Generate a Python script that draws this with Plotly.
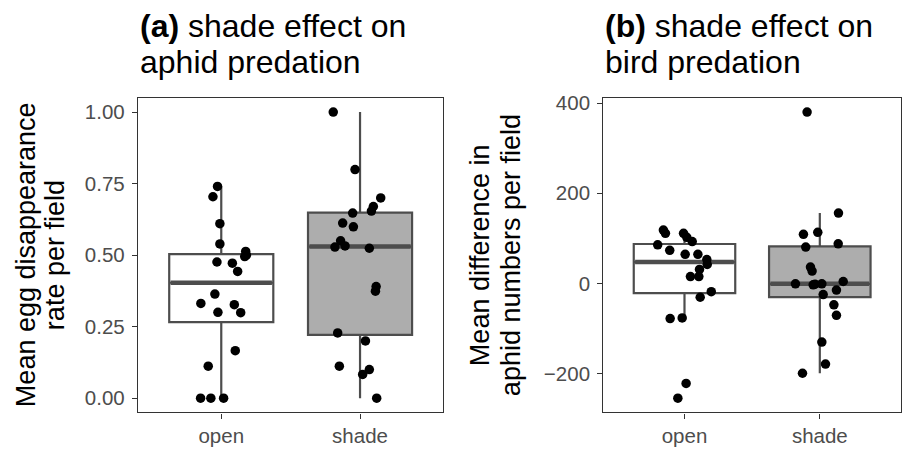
import numpy as np
import plotly.graph_objects as go

# ---------------- data ----------------
categories = ["open", "shade"]

# panel (a): mean egg disappearance rate per field
egg_open = [0.740, 0.704, 0.610, 0.539, 0.513, 0.500, 0.495, 0.476, 0.472, 0.443,
            0.364, 0.331, 0.327, 0.300, 0.299, 0.166, 0.112, 0.0, 0.0, 0.0]
egg_open_jit = [-0.027, -0.060, -0.010, -0.010, 0.176, 0.181, 0.169, -0.031, 0.080, 0.118,
                -0.046, -0.147, 0.094, -0.024, 0.140, 0.101, -0.094, -0.149, -0.075, 0.017]
egg_shade = [1.000, 0.799, 0.700, 0.670, 0.654, 0.647, 0.612, 0.599, 0.550, 0.528,
             0.532, 0.524, 0.390, 0.374, 0.228, 0.200, 0.112, 0.100, 0.083, 0.0]
egg_shade_jit = [-0.193, -0.036, 0.149, 0.096, 0.082, -0.053, -0.125, -0.048, -0.140, -0.181,
                 -0.108, 0.067, 0.116, 0.111, -0.161, 0.039, -0.149, 0.067, 0.019, 0.120]

# panel (b): mean difference in aphid numbers per field
aph_open = [118.4, 111.2, 111.2, 102.4, 93.0, 85.7, 73.4, 64.7, 64.7, 53.0,
            42.1, 31.2, 15.3, 15.3, -18.2, -30.5, -77.7, -76.3, -221.6, -254.3]
aph_open_jit = [-0.156, -0.141, -0.007, 0.017, 0.057, -0.198, -0.109, 0.005, 0.099, 0.165,
                0.168, 0.111, 0.044, 0.106, 0.198, 0.116, -0.106, -0.017, 0.012, -0.049]
aph_shade = [380.0, 156.2, 113.3, 109.0, 87.9, 80.6, 36.3, 27.6, 4.4, -0.7,
             -2.9, -1.5, -0.7, -14.5, -24.7, -47.2, -70.5, -130.0, -178.7, -199.0]
aph_shade_jit = [-0.094, 0.138, -0.015, -0.121, 0.136, -0.104, -0.069, -0.057, 0.173, -0.180,
                 -0.049, -0.035, 0.015, 0.123, 0.025, 0.104, 0.123, 0.015, 0.042, -0.128]

ya_tickvals = [0, 0.25, 0.5, 0.75, 1.0]
ya_ticktext = ["0.00", "0.25", "0.50", "0.75", "1.00"]
yb_tickvals = [-200, 0, 200, 400]
yb_ticktext = ["\u2212200", "0", "200", "400"]

title_a = ["<b>(a)</b> shade effect on", "aphid predation"]
title_b = ["<b>(b)</b> shade effect on", "bird predation"]
ytitle_a = ["Mean egg disappearance", "rate per field"]
ytitle_b = ["Mean difference in", "aphid numbers per field"]

# ---------------- styling ----------------
W, H = 903, 449
FONT = "Liberation Sans, Arial, Helvetica, sans-serif"
BOXLINE = "#4d4d4d"
BORDER = "#333333"
TICKTXT = "#4d4d4d"
FILLS = ["#ffffff", "#adadad"]
BOXW = 0.75

fig = go.Figure()


def box_stats(v):
    v = np.asarray(v, dtype=float)
    q1, med, q3 = np.quantile(v, [0.25, 0.5, 0.75])
    iqr = q3 - q1
    lo = v[v >= q1 - 1.5 * iqr].min()
    hi = v[v <= q3 + 1.5 * iqr].max()
    return q1, med, q3, lo, hi


def add_panel(groups, jits, xref, yref):
    for i, (vals, jit) in enumerate(zip(groups, jits)):
        q1, med, q3, lo, hi = box_stats(vals)
        fig.add_trace(go.Box(
            x=[i], q1=[q1], median=[med], q3=[q3], lowerfence=[lo], upperfence=[hi],
            width=BOXW, whiskerwidth=0, fillcolor=FILLS[i],
            line=dict(color=BOXLINE, width=2.2), boxpoints=False,
            xaxis=xref, yaxis=yref, showlegend=False, hoverinfo="skip"))
        # thicker median bar, as in ggplot
        fig.add_trace(go.Scatter(
            x=[i - BOXW / 2 + 0.01, i + BOXW / 2 - 0.01], y=[med, med], mode="lines",
            line=dict(color=BOXLINE, width=4.4), xaxis=xref, yaxis=yref,
            showlegend=False, hoverinfo="skip"))
    for i, (vals, jit) in enumerate(zip(groups, jits)):
        fig.add_trace(go.Scatter(
            x=[i + j for j in jit], y=vals, mode="markers",
            marker=dict(color="#000000", size=9.5, line=dict(width=0)),
            xaxis=xref, yaxis=yref, showlegend=False, hoverinfo="skip"))


add_panel([egg_open, egg_shade], [egg_open_jit, egg_shade_jit], "x", "y")
add_panel([aph_open, aph_shade], [aph_open_jit, aph_shade_jit], "x2", "y2")


def yrange(*groups):
    allv = np.concatenate([np.asarray(g, float) for g in groups])
    span = allv.max() - allv.min()
    return [allv.min() - 0.05 * span, allv.max() + 0.05 * span]


ax_common = dict(showline=True, mirror=True, linecolor=BORDER, linewidth=1.3,
                 ticks="outside", ticklen=5, tickwidth=1.3, tickcolor=BORDER,
                 showgrid=False, zeroline=False,
                 tickfont=dict(family=FONT, size=20.5, color=TICKTXT))

ydom = [1 - 412 / H, 1 - 93 / H]
fig.update_layout(
    width=W, height=H, margin=dict(l=0, r=0, t=0, b=0),
    paper_bgcolor="white", plot_bgcolor="white",
    font=dict(family=FONT),
    xaxis=dict(domain=[138 / W, 443.3 / W], range=[-0.6, 1.6], tickvals=[0, 1],
               ticktext=categories, anchor="y", **ax_common),
    yaxis=dict(domain=ydom, range=yrange(egg_open, egg_shade), tickvals=ya_tickvals,
               ticktext=ya_ticktext, anchor="x", ticklabelstandoff=3, **ax_common),
    xaxis2=dict(domain=[603.3 / W, 901 / W], range=[-0.6, 1.6], tickvals=[0, 1],
                ticktext=categories, anchor="y2", **ax_common),
    yaxis2=dict(domain=ydom, range=yrange(aph_open, aph_shade), tickvals=yb_tickvals,
                ticktext=yb_ticktext, anchor="x2", ticklabelstandoff=3, **ax_common),
)

ann = []
# panel titles
for lines, x0 in [(title_a, 138), (title_b, 603.3)]:
    for k, (txt, yc) in enumerate(zip(lines, [20, 56.5])):
        ann.append(dict(text=txt, x=x0 / W, y=1 - yc / H, xref="paper", yref="paper",
                        xanchor="left", yanchor="middle", showarrow=False,
                        font=dict(family=FONT, size=32, color="#000000")))
# y-axis titles (two lines each, rotated)
for lines, xs in [(ytitle_a, [26, 55]), (ytitle_b, [480, 511])]:
    for txt, xc in zip(lines, xs):
        ann.append(dict(text=txt, x=xc / W, y=1 - 252.5 / H, xref="paper", yref="paper",
                        xanchor="center", yanchor="middle", textangle=-90, showarrow=False,
                        font=dict(family=FONT, size=27, color="#000000")))
fig.update_layout(annotations=ann)

fig.write_html("out.html")
